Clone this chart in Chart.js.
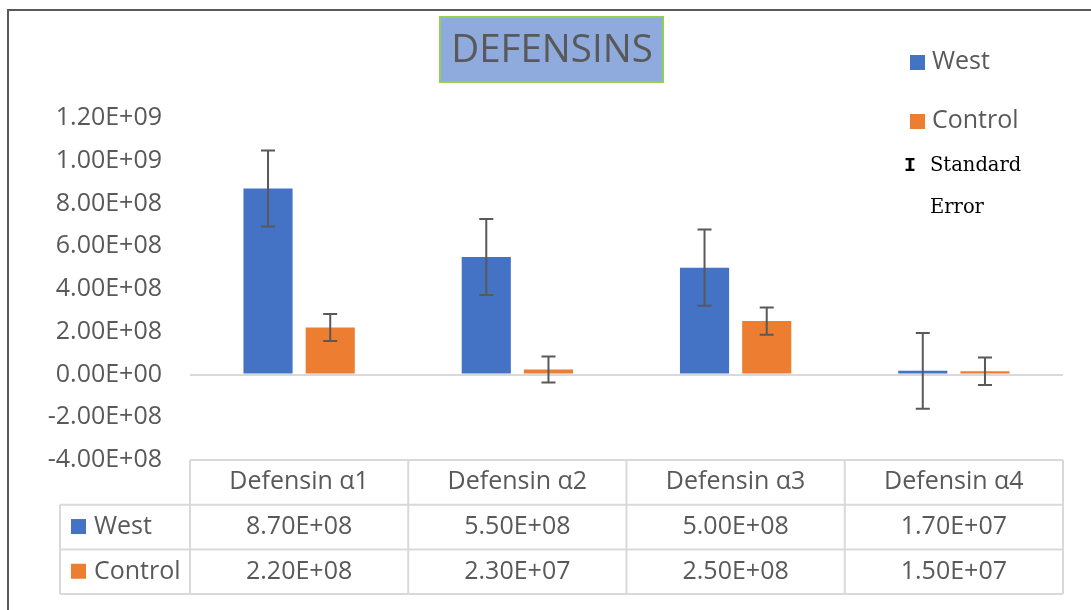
<!DOCTYPE html>
<html>
<head>
<meta charset="utf-8">
<script src="https://cdn.jsdelivr.net/npm/chart.js@4"></script>
<style>
  body { margin: 0; background: #fff; }
  canvas { display: block; }
</style>
</head>
<body>
<canvas id="myChart" width="1091" height="610"></canvas>
<script>
var categories = ['Defensin \u03b11', 'Defensin \u03b12', 'Defensin \u03b13', 'Defensin \u03b14'];
var westValues = [8.7e8, 5.5e8, 5.0e8, 1.7e7];
var controlValues = [2.2e8, 2.3e7, 2.5e8, 1.5e7];
var westErrors = [1.78e8, 1.78e8, 1.78e8, 1.77e8];
var controlErrors = [6.3e7, 6.1e7, 6.4e7, 6.4e7];
var yTicks = { min: -4e8, max: 1.2e9, step: 2e8 };

var BLUE = '#4472c4', ORANGE = '#ed7d31', GREY = '#595959', LINE = '#d9d9d9';
var SANS = '"Open Sans", sans-serif';

function sci(v) {
  var parts = Number(v).toExponential(2).split('e');
  var exp = parseInt(parts[1], 10);
  var sign = exp < 0 ? '-' : '+';
  var e = Math.abs(exp);
  return parts[0] + 'E' + sign + (e < 10 ? '0' + e : e);
}

// frame, title box and legend
var decorations = {
  id: 'decorations',
  beforeDraw: function (chart) {
    var c = chart.ctx;
    c.save();
    c.fillStyle = '#fff';
    c.fillRect(0, 0, chart.width, chart.height);
    c.strokeStyle = GREY;
    c.lineWidth = 2;
    c.beginPath();
    c.moveTo(8, chart.height);
    c.lineTo(8, 10);
    c.lineTo(chart.width, 10);
    c.stroke();
    c.restore();
  },
  afterDraw: function (chart) {
    var c = chart.ctx;
    c.save();
    // title
    c.fillStyle = '#8faadc';
    c.fillRect(440, 17, 223, 65);
    c.strokeStyle = '#92d050';
    c.lineWidth = 2;
    c.strokeRect(440, 17, 223, 65);
    c.fillStyle = GREY;
    c.font = '38.5px ' + SANS;
    c.textAlign = 'center';
    c.textBaseline = 'middle';
    c.fillText('DEFENSINS', 552, 51);

    // legend
    c.textAlign = 'left';
    c.font = '25px ' + SANS;
    c.fillStyle = BLUE;
    c.fillRect(910, 55, 15, 15);
    c.fillStyle = GREY;
    c.fillText('West', 932, 62);
    c.fillStyle = ORANGE;
    c.fillRect(910, 114, 15, 15);
    c.fillStyle = GREY;
    c.fillText('Control', 932, 121);
    c.fillStyle = '#000';
    c.font = 'bold 20px "Liberation Mono", monospace';
    c.textAlign = 'center';
    c.fillText('I', 910, 166);
    c.font = '19.5px "DejaVu Serif", serif';
    c.textAlign = 'left';
    c.fillText('Standard', 930, 166);
    c.fillText('Error', 930, 208);
    c.restore();
  }
};

// standard error whiskers
var errorBars = {
  id: 'errorBars',
  afterDatasetsDraw: function (chart) {
    var c = chart.ctx;
    var y = chart.scales.y;
    var errs = [westErrors, controlErrors];
    c.save();
    c.strokeStyle = GREY;
    c.lineWidth = 2;
    chart.data.datasets.forEach(function (ds, di) {
      chart.getDatasetMeta(di).data.forEach(function (bar, i) {
        var v = ds.data[i], e = errs[di][i];
        var top = y.getPixelForValue(v + e), bot = y.getPixelForValue(v - e);
        c.beginPath();
        c.moveTo(bar.x, top); c.lineTo(bar.x, bot);
        c.moveTo(bar.x - 7, top); c.lineTo(bar.x + 7, top);
        c.moveTo(bar.x - 7, bot); c.lineTo(bar.x + 7, bot);
        c.stroke();
      });
    });
    c.restore();
  }
};

// data table under the plot
var dataTable = {
  id: 'dataTable',
  afterDraw: function (chart) {
    var c = chart.ctx;
    var x = chart.scales.x;
    var area = chart.chartArea;
    var half = (x.getPixelForValue(1) - x.getPixelForValue(0)) / 2;
    var left = area.left, right = area.right;
    var rowH = 44.7;
    var r0 = area.bottom, r1 = r0 + rowH, r2 = r1 + rowH, r3 = r2 + rowH;
    var keyLeft = 60;
    c.save();
    c.strokeStyle = LINE;
    c.lineWidth = 2;
    c.beginPath();
    c.moveTo(left, r0); c.lineTo(right, r0);
    [r1, r2, r3].forEach(function (r) { c.moveTo(keyLeft, r); c.lineTo(right, r); });
    c.moveTo(keyLeft, r1); c.lineTo(keyLeft, r3);
    c.moveTo(left, r0); c.lineTo(left, r3);
    categories.forEach(function (cat, i) {
      var xr = x.getPixelForValue(i) + half;
      c.moveTo(xr, r0); c.lineTo(xr, r3);
    });
    c.stroke();

    c.fillStyle = GREY;
    c.font = '25px ' + SANS;
    c.textAlign = 'center';
    c.textBaseline = 'middle';
    categories.forEach(function (cat, i) {
      var cx = x.getPixelForValue(i);
      c.fillText(cat, cx, (r0 + r1) / 2);
      c.fillText(sci(westValues[i]), cx, (r1 + r2) / 2);
      c.fillText(sci(controlValues[i]), cx, (r2 + r3) / 2);
    });
    c.textAlign = 'left';
    c.fillStyle = BLUE;
    c.fillRect(71, (r1 + r2) / 2 - 8, 15, 15);
    c.fillStyle = ORANGE;
    c.fillRect(71, (r2 + r3) / 2 - 8, 15, 15);
    c.fillStyle = GREY;
    c.fillText('West', 94, (r1 + r2) / 2);
    c.fillText('Control', 94, (r2 + r3) / 2);
    c.restore();
  }
};

var ctx = document.getElementById('myChart').getContext('2d');
var myChart = new Chart(ctx, {
  type: 'bar',
  data: {
    labels: categories,
    datasets: [{
      label: 'West',
      data: westValues,
      backgroundColor: BLUE,
      categoryPercentage: 0.57,
      barPercentage: 0.79
    }, {
      label: 'Control',
      data: controlValues,
      backgroundColor: ORANGE,
      categoryPercentage: 0.57,
      barPercentage: 0.79
    }]
  },
  options: {
    responsive: false,
    animation: false,
    layout: { padding: { left: 0, right: 28, top: 118, bottom: 150 } },
    scales: {
      x: { display: false },
      y: {
        min: yTicks.min,
        max: yTicks.max,
        afterFit: function (scale) { scale.width = 190; },
        border: { display: false },
        grid: {
          drawTicks: false,
          color: function (ctx) { return ctx.tick && ctx.tick.value === 0 ? LINE : 'rgba(0,0,0,0)'; },
          lineWidth: 2
        },
        ticks: {
          stepSize: yTicks.step,
          padding: 28,
          color: GREY,
          font: { family: SANS, size: 25 },
          callback: function (v) { return sci(v); }
        }
      }
    },
    plugins: {
      legend: { display: false },
      title: { display: false },
      tooltip: { enabled: false }
    }
  },
  plugins: [decorations, errorBars, dataTable]
});
</script>
</body>
</html>
